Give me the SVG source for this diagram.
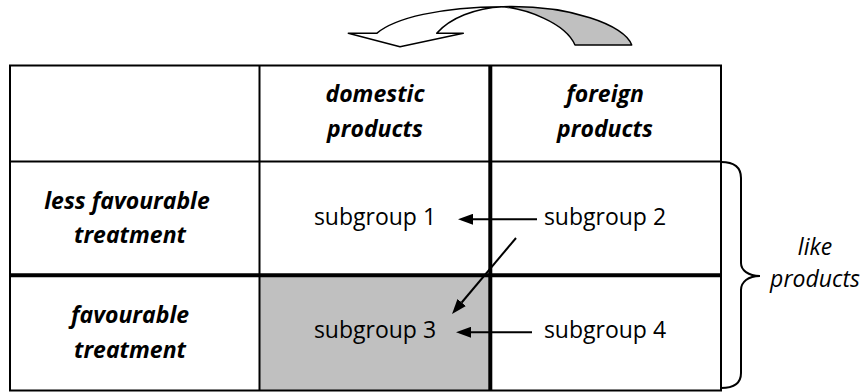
<svg xmlns="http://www.w3.org/2000/svg" width="864" height="392" viewBox="0 0 864 392">
  <style>
    .lbl { font-family: "Open Sans", "Liberation Sans", sans-serif; font-size: 23px; font-weight: bold; font-style: italic; fill: #000; text-anchor: middle; }
    .sub { font-family: "Open Sans", "Liberation Sans", sans-serif; font-size: 23px; fill: #000; text-anchor: middle; }
    .side { font-family: "Open Sans", "Liberation Sans", sans-serif; font-size: 23px; font-style: italic; fill: #000; text-anchor: middle; }
    .thin { stroke: #000; stroke-width: 2; fill: none; }
    .thick { stroke: #000; stroke-width: 4; fill: none; }
    .conn { stroke: #000; stroke-width: 2; fill: none; marker-end: url(#ah); }
    .shape { stroke: #000; stroke-width: 1.5; stroke-linejoin: round; }
  </style>
  <defs>
    <marker id="ah" viewBox="0 0 15 11" markerWidth="15" markerHeight="11" refX="0" refY="5.5" orient="auto" markerUnits="userSpaceOnUse">
      <path d="M0,0 L15,5.5 L0,11 Z" fill="#000"/>
    </marker>
  </defs>

  <rect width="864" height="392" fill="#fff"/>

  <!-- curved arrow above table -->
  <g id="swap-arrow">
    <path class="shape" fill="#c0c0c0" d="M503,6.7 C525,9 565,22 575,45 L631.7,45 C625,25 570,5 503,6.7 Z"/>
    <path class="shape" fill="#fff" d="M400,46.7 L348.3,33.3 L376.7,33.3 C395,18 440,7 503,6.7 C475,8 450,18 436.7,33.3 L463.3,33.3 Z"/>
  </g>

  <!-- table cells -->
  <g id="cell-corner"><rect x="10" y="65.5" width="249.5" height="96" fill="#fff"/></g>
  <g id="cell-domestic">
    <text class="lbl" x="375" y="102">domestic</text>
    <text class="lbl" x="375" y="137">products</text>
  </g>
  <g id="cell-foreign">
    <text class="lbl" x="605" y="102">foreign</text>
    <text class="lbl" x="605" y="137">products</text>
  </g>
  <g id="cell-less-favourable">
    <text class="lbl" x="127" y="209">less favourable</text>
    <text class="lbl" x="130" y="243">treatment</text>
  </g>
  <g id="cell-favourable">
    <text class="lbl" x="130" y="323">favourable</text>
    <text class="lbl" x="130" y="358">treatment</text>
  </g>
  <g id="subgroup1"><text class="sub" x="375" y="225">subgroup 1</text></g>
  <g id="subgroup2"><text class="sub" x="605" y="225">subgroup 2</text></g>
  <g id="subgroup3">
    <rect x="259.5" y="275.3" width="230.8" height="115.2" fill="#c0c0c0"/>
    <text class="sub" x="375" y="338">subgroup 3</text>
  </g>
  <g id="subgroup4"><text class="sub" x="605" y="338">subgroup 4</text></g>

  <!-- grid lines -->
  <g id="grid">
    <rect class="thin" x="10" y="65.5" width="711" height="325"/>
    <line class="thin" x1="10" y1="161.5" x2="721" y2="161.5"/>
    <line class="thin" x1="259.5" y1="65.5" x2="259.5" y2="390.5"/>
    <line class="thick" x1="490.3" y1="65.5" x2="490.3" y2="390.5"/>
    <line class="thick" x1="10" y1="275.3" x2="721" y2="275.3"/>
  </g>

  <!-- brace and side label -->
  <g id="like-products">
    <path class="thin" stroke-width="1.6" d="M721,162 C735,162 741,168 741,178 L741,263 C741,270 748,276 760,276 C748,276 741,282 741,290 L741,373 C741,383 735,388 721,388"/>
    <text class="side" x="815" y="255">like</text>
    <text class="side" x="815" y="287">products</text>
  </g>

  <!-- connectors -->
  <g id="connectors">
    <line class="conn" x1="537" y1="219.3" x2="473" y2="219.3"/>
    <line class="conn" x1="532" y1="332.3" x2="471" y2="332.3"/>
    <line class="conn" x1="516" y1="238" x2="461.7" y2="302.5"/>
  </g>
</svg>
